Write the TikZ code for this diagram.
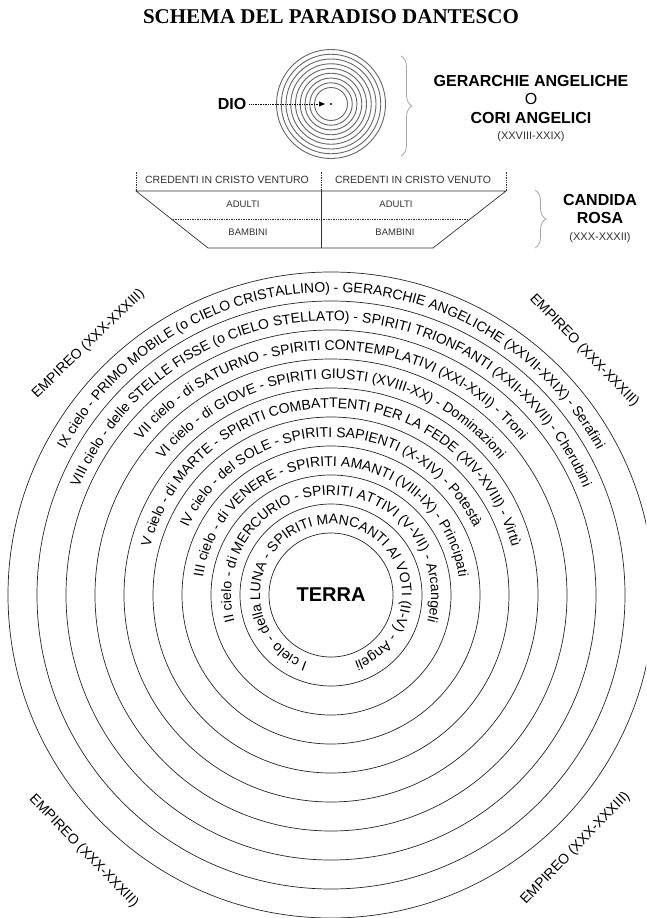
\documentclass[tikz,border=0pt]{standalone}
\usepackage{fontspec}
\setmainfont{Liberation Serif}
\setsansfont{Liberation Sans}
\usetikzlibrary{calc,arrows.meta}
\usetikzlibrary{decorations.text,decorations.pathreplacing}
\newcommand{\ringfont}{\sffamily\fontsize{14}{14}\selectfont}
\newcommand{\cielo}[2]{\path[decorate,decoration={text along path,text align=center,text={|\ringfont|#2}}]
    (terra) ++(-90:#1) arc[start angle=-90,end angle=-450,radius=#1];}

\begin{document}
\begin{tikzpicture}
    [x=1pt, y=1pt,
 choir/.style ={draw=black!60, line width=0.9pt},
 orbit/.style ={draw=black!85, line width=0.7pt},
 rosa/.style ={draw=black!80, line width=0.7pt},
 curly/.style ={draw=black!35, line width=0.8pt, decorate, decoration={brace, amplitude=11pt}},
 bigname/.style ={font=\sffamily\bfseries\fontsize{16}{16}\selectfont, inner sep=0pt},
 plainname/.style ={font=\sffamily\fontsize{16}{16}\selectfont, inner sep=0pt},
 canti/.style ={font=\sffamily\fontsize{11}{11}\selectfont, text=black!80, inner sep=0pt},
 rosetext/.style ={font=\sffamily\fontsize{10.5}{11}\selectfont, text=black!80, inner sep=0pt},
 cell/.style ={font=\sffamily\fontsize{9.5}{9.5}\selectfont, text=black!80, inner sep=0pt},
 empireo/.style ={font=\sffamily\fontsize{14}{14}\selectfont, inner sep=0pt}]
    \fill[white] (0,0) rectangle (646,-918);
    \useasboundingbox (0,0) rectangle (646,-918);
    \clip (0,0) rectangle (646,-918);
    \node[font=\rmfamily\bfseries\fontsize{21}{21}\selectfont] (title) at (331,-17) {SCHEMA DEL PARADISO DANTESCO};

    % cori angelici
    \coordinate (god) at (331,-104);
    \foreach \k in {0,...,8}
        \draw[choir] (god) circle[radius={16.5+4.75*\k}];
    \fill (god) circle[radius=1.1];
    \node[bigname] (dio) at (232,-104) {DIO};
    \draw[densely dotted, line width=0.7pt, -{Triangle[length=6pt,width=5pt]}, shorten <=3pt] (dio.east) -- ([xshift=-6pt]god);
    \coordinate (gtop) at (401,-56);
    \coordinate (gbot) at (401,-156);
    \draw[curly] (gtop) -- (gbot);
    \node[bigname] (gerarchie) at (531,-81) {GERARCHIE ANGELICHE};
    \node[plainname] (oppure) at (531,-99) {O};
    \node[bigname] (cori) at (531,-118) {CORI ANGELICI};
    \node[canti] (canticori) at (531,-137) {(XXVIII-XXIX)};

    % candida rosa
    \coordinate (tl) at (136,-191);
    \coordinate (tm) at (321,-191);
    \coordinate (tr) at (506,-191);
    \coordinate (bl) at (208,-248);
    \coordinate (bm) at (321,-248);
    \coordinate (br) at (433,-248);
    \draw[rosa] (tl) -- (tr) -- (br) -- (bl) -- cycle;
    \draw[rosa] (tm) -- (bm);
    \draw[rosa, densely dotted] ($(tl)!0.49!(bl)$) -- ($(tr)!0.49!(br)$);
    \foreach \p in {tl,tm,tr}
        \draw[rosa, densely dotted] (\p) -- ++(0,20);
    \node[rosetext] (venturo) at (227,-180) {CREDENTI IN CRISTO VENTURO};
    \node[rosetext] (venuto) at (413,-180) {CREDENTI IN CRISTO VENUTO};
    \node[cell] (adulti1) at (243,-204) {ADULTI};
    \node[cell] (adulti2) at (396,-204) {ADULTI};
    \node[cell] (bambini1) at (248,-232) {BAMBINI};
    \node[cell] (bambini2) at (395,-232) {BAMBINI};
    \coordinate (rtop) at (535,-190);
    \coordinate (rbot) at (535,-248);
    \draw[curly] (rtop) -- (rbot);
    \node[bigname] (candida) at (600,-200) {CANDIDA};
    \node[bigname] (rosanome) at (600,-218) {ROSA};
    \node[canti] (cantirosa) at (600,-238) {(XXX-XXXII)};

    % cieli
    \coordinate (terra) at (331,-595);
    \foreach \k in {0,...,9}
        \draw[orbit] (terra) circle[radius={62+29*\k}];
    \node[font=\sffamily\bfseries\fontsize{20}{20}\selectfont] (terranome) at (terra) {TERRA};
    \cielo{71}{I cielo - della LUNA - SPIRITI MANCANTI AI VOTI (II-V) - Angeli}
    \cielo{100}{II cielo - di MERCURIO - SPIRITI ATTIVI (V-VII) - Arcangeli}
    \cielo{129}{III cielo - di VENERE - SPIRITI AMANTI (VIII-IX) - Principati}
    \cielo{158}{IV cielo - del SOLE - SPIRITI SAPIENTI (X-XIV) - Potestà}
    \cielo{187}{V cielo - di MARTE - SPIRITI COMBATTENTI PER LA FEDE (XIV-XVIII) - Virtù}
    \cielo{216}{VI cielo - di GIOVE - SPIRITI GIUSTI (XVIII-XX) - Dominazioni}
    \cielo{245}{VII cielo - di SATURNO - SPIRITI CONTEMPLATIVI (XXI-XXII) - Troni}
    \cielo{274}{VIII cielo - delle STELLE FISSE (o CIELO STELLATO) - SPIRITI TRIONFANTI (XXII-XXVII) - Cherubini}
    \cielo{303}{IX cielo - PRIMO MOBILE (o CIELO CRISTALLINO) - GERARCHIE ANGELICHE (XXVII-XXIX) - Serafini}

    % empireo
    \node[empireo, rotate=44] (empireo1) at ([shift={(134:349)}]terra) {EMPIREO (XXX-XXXIII)};
    \node[empireo, rotate=-46] (empireo2) at ([shift={(44:352)}]terra) {EMPIREO (XXX-XXXIII)};
    \node[empireo, rotate=-46] (empireo3) at ([shift={(226:356)}]terra) {EMPIREO (XXX-XXXIII)};
    \node[empireo, rotate=46] (empireo4) at ([shift={(314:352)}]terra) {EMPIREO (XXX-XXXIII)};
\end{tikzpicture}
\end{document}
